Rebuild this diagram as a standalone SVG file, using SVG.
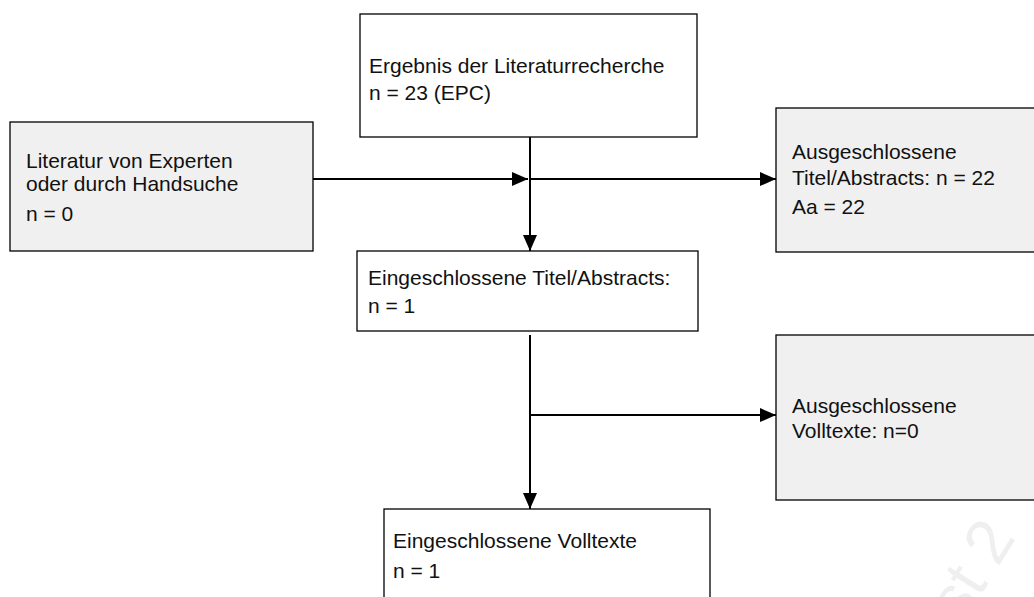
<svg xmlns="http://www.w3.org/2000/svg" width="1034" height="597" viewBox="0 0 1034 597">
  <defs>
    <marker id="arrow" markerWidth="16" markerHeight="14" refX="16" refY="7" orient="auto" markerUnits="userSpaceOnUse">
      <path d="M0,0 L16,7 L0,14 Z" fill="#000"/>
    </marker>
    <style>
      .box { stroke: #000; stroke-width: 1.3; }
      .white { fill: #fff; }
      .grey { fill: #f0f0f0; }
      .label { font-family: "Liberation Sans", Arial, sans-serif; font-size: 21px; fill: #111; }
      .conn { stroke: #000; stroke-width: 2; fill: none; }
      .wm { font-family: "Liberation Sans", Arial, sans-serif; font-size: 64px; fill: #efefef; }
    </style>
  </defs>
  <rect width="1034" height="597" fill="#fff"/>

  <!-- faint watermark -->
  <text class="wm" transform="translate(962,625) rotate(-58)">st 2</text>

  <!-- connectors -->
  <g id="connectors">
    <line class="conn" x1="313" y1="179" x2="528" y2="179" marker-end="url(#arrow)"/>
    <line class="conn" x1="530" y1="137" x2="530" y2="251" marker-end="url(#arrow)"/>
    <line class="conn" x1="530" y1="179" x2="776" y2="179" marker-end="url(#arrow)"/>
    <line class="conn" x1="530" y1="335" x2="530" y2="509" marker-end="url(#arrow)"/>
    <line class="conn" x1="530" y1="415" x2="776" y2="415" marker-end="url(#arrow)"/>
  </g>

  <g id="search-result">
    <rect class="box white" x="360" y="14" width="337" height="123"/>
    <text class="label" x="369" y="73">Ergebnis der Literaturrecherche</text>
    <text class="label" x="369" y="100">n = 23 (EPC)</text>
  </g>

  <g id="experts">
    <rect class="box grey" x="10" y="122" width="303" height="129"/>
    <text class="label" x="26" y="168">Literatur von Experten</text>
    <text class="label" x="26" y="191">oder durch Handsuche</text>
    <text class="label" x="26" y="221">n = 0</text>
  </g>

  <g id="excluded-abstracts">
    <rect class="box grey" x="776" y="108" width="270" height="144"/>
    <text class="label" x="792" y="159">Ausgeschlossene</text>
    <text class="label" x="792" y="185">Titel/Abstracts: n = 22</text>
    <text class="label" x="792" y="214">Aa = 22</text>
  </g>

  <g id="included-abstracts">
    <rect class="box white" x="357" y="251" width="341" height="80"/>
    <text class="label" x="368" y="285">Eingeschlossene Titel/Abstracts:</text>
    <text class="label" x="368" y="313">n = 1</text>
  </g>

  <g id="excluded-fulltexts">
    <rect class="box grey" x="776" y="335" width="270" height="165"/>
    <text class="label" x="792" y="413">Ausgeschlossene</text>
    <text class="label" x="792" y="438">Volltexte: n=0</text>
  </g>

  <g id="included-fulltexts">
    <rect class="box white" x="384" y="509" width="326" height="100"/>
    <text class="label" x="393" y="548">Eingeschlossene Volltexte</text>
    <text class="label" x="393" y="578">n = 1</text>
  </g>
</svg>
